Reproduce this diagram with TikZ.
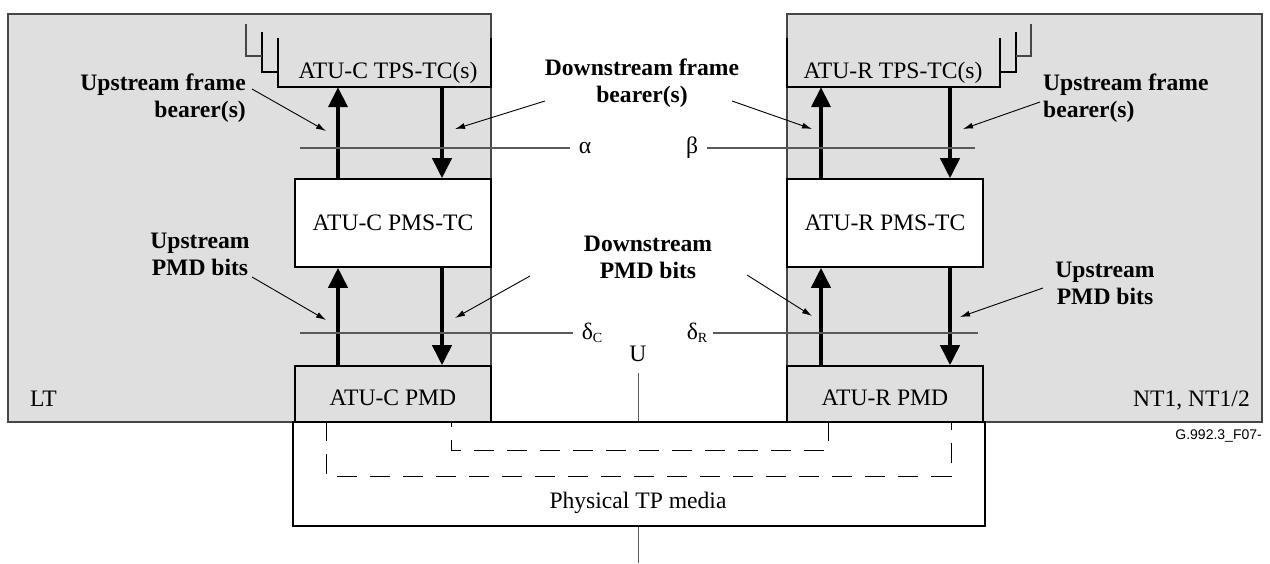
\documentclass[tikz,border=0pt]{standalone}
\usepackage{fontspec}
\setmainfont{Liberation Serif}
\newfontfamily\figsans{Liberation Sans}
\usetikzlibrary{arrows.meta}
\definecolor{panelgray}{RGB}{223,223,223}
\definecolor{edgegray}{RGB}{70,70,70}
\definecolor{refgray}{RGB}{90,90,90}
\newcommand\figfont{\fontsize{23.6}{27}\selectfont}
\newcommand\figsub[1]{\raisebox{-3pt}{\fontsize{14}{14}\selectfont #1}}
\begin{document}
\begin{tikzpicture}[x=1pt,y=-1pt,
  panel/.style={draw=edgegray, line width=1.3pt, fill=panelgray, inner sep=0pt},
  box/.style={draw=black, line width=1.6pt, inner sep=0pt, font=\figfont},
  txt/.style={inner sep=0pt, font=\figfont},
  note/.style={inner sep=0pt, font=\figfont\bfseries},
  bigarrow/.style={line width=4pt, -{Triangle[length=20pt,width=19pt]}},
  pointer/.style={line width=0.9pt, -{Latex[length=10pt,width=6pt]}},
  refline/.style={draw=refgray, line width=1.1pt},
  openbox/.style={line width=1.6pt},
  bracket/.style={line width=1.2pt},
  media dash/.style={line width=1pt, dash pattern=on 20pt off 13pt},
  thin/.style={line width=1pt, draw=refgray}]
\useasboundingbox (0,0) rectangle (1270,563);

% panels
\node[panel, minimum width=483, minimum height=408] (ltpanel) at (249.5,218) {};
\node[panel, minimum width=475, minimum height=408] (ntpanel) at (1024.5,218) {};

% TPS-TC open boxes
\node[inner sep=0pt, minimum width=213, minimum height=49] (tpsC) at (384.5,62.5) {};
\node[inner sep=0pt, minimum width=213, minimum height=49] (tpsR) at (893.5,62.5) {};
\draw[openbox] (tpsC.north west) -- (tpsC.south west) -- (tpsC.south east) -- (tpsC.north east);
\draw[openbox] (tpsR.north west) -- (tpsR.south west) -- (tpsR.south east) -- (tpsR.north east);
\node[txt, anchor=base] (tpsCt) at (388,78) {ATU-C TPS-TC(s)};
\node[txt, anchor=base] (tpsRt) at (893,78) {ATU-R TPS-TC(s)};
% brackets
\draw[bracket] (262,32) -- (262,72) -- (tpsC.west |- 0,72);
\draw[bracket, draw=edgegray] (246,24) -- (246,56) -- (262,56);
\draw[bracket] (1016,32) -- (1016,72) -- (tpsR.east |- 0,72);
\draw[bracket, draw=edgegray] (1031,24) -- (1031,56) -- (1016,56);

% PMS-TC and PMD boxes
\node[box, fill=white, minimum width=196, minimum height=88] (pmsC) at (393,223) {ATU-C PMS-TC};
\node[box, fill=white, minimum width=196, minimum height=88] (pmsR) at (885,223) {ATU-R PMS-TC};
\node[box, fill=panelgray, minimum width=196, minimum height=56] (pmdC) at (393,394) {};
\node[box, fill=panelgray, minimum width=196, minimum height=56] (pmdR) at (885,394) {};
\node[txt, anchor=base] (pmdCt) at (393,405) {ATU-C PMD};
\node[txt, anchor=base] (pmdRt) at (885,405) {ATU-R PMD};

% physical media
\node[box, fill=white, minimum width=692, minimum height=104] (media) at (639,474) {};
\node[txt, anchor=base] (mediat) at (638,508) {Physical TP media};

% x positions of the arrows
\coordinate (xa) at (338,0);
\coordinate (xb) at (442,0);
\coordinate (xc) at (821,0);
\coordinate (xd) at (950,0);

% thick arrows
\draw[bigarrow] (pmsC.north -| xa) -- (tpsC.south -| xa);
\draw[bigarrow] (tpsC.south -| xb) -- (pmsC.north -| xb);
\draw[bigarrow] (pmdC.north -| xa) -- (pmsC.south -| xa);
\draw[bigarrow] (pmsC.south -| xb) -- (pmdC.north -| xb);
\draw[bigarrow] (pmsR.north -| xc) -- (tpsR.south -| xc);
\draw[bigarrow] (tpsR.south -| xd) -- (pmsR.north -| xd);
\draw[bigarrow] (pmdR.north -| xc) -- (pmsR.south -| xc);
\draw[bigarrow] (pmsR.south -| xd) -- (pmdR.north -| xd);

% reference points
\node[txt] (alpha) at (585,148) {α};
\node[txt] (beta) at (692,148) {β};
\node[txt] (deltaC) at (592,333) {δ\figsub{C}};
\node[txt] (deltaR) at (697,333) {δ\figsub{R}};
\node[txt] (U) at (638,354) {U};
\coordinate (aL) at (300,148);
\coordinate (bR) at (975,148);
\coordinate (dL) at (300,333);
\coordinate (dR) at (978,333);
\draw[refline] (aL) -- ([xshift=-9pt]alpha.west);
\draw[refline] ([xshift=9pt]beta.east) -- (bR);
\draw[refline] (dL) -- ([xshift=-9pt]deltaC.west);
\draw[refline] ([xshift=6pt]deltaR.east) -- (dR);
\coordinate (Ub) at (638,373);
\draw[thin] (Ub) -- (media.north -| Ub);
\coordinate (Bot) at (638,563);
\draw[thin] (media.south -| Ub) -- (Bot);

% dashed loops in the medium
\coordinate (o1) at (326,0);
\coordinate (o2) at (951,0);
\coordinate (i1) at (451,0);
\coordinate (i2) at (828,0);
\draw[media dash, dash phase=0pt] (media.north -| o1) -- (326,476) -- (951,476) -- (media.north -| o2);
\draw[media dash, dash phase=14pt] (media.north -| i1) -- (451,450) -- (828,450) -- (media.north -| i2);

% annotation labels (anchor base = baseline of the last line)
\node[note, align=right, anchor=base east] (ufbL) at (246,117) {Upstream frame\\bearer(s)};
\node[note, align=center, anchor=base] (dfb) at (642,102) {Downstream frame\\bearer(s)};
\node[note, align=left, anchor=base west] (ufbR) at (1043,117) {Upstream frame\\bearer(s)};
\node[note, align=center, anchor=base] (upmdL) at (200,275) {Upstream\\PMD bits};
\node[note, align=center, anchor=base] (dpmd) at (648,278) {Downstream\\PMD bits};
\node[note, align=center, anchor=base] (upmdR) at (1105,304) {Upstream\\PMD bits};

% pointers
\coordinate (p1s) at (252,89);   \coordinate (p1e) at (326,131);
\coordinate (p2s) at (545,101);  \coordinate (p2e) at (455,129);
\coordinate (p3s) at (732,101);  \coordinate (p3e) at (812,129);
\coordinate (p4s) at (1040,102); \coordinate (p4e) at (963,129);
\coordinate (p5s) at (252,277);  \coordinate (p5e) at (326,320);
\coordinate (p6s) at (530,276);  \coordinate (p6e) at (455,318);
\coordinate (p7s) at (747,275);  \coordinate (p7e) at (812,316);
\coordinate (p8s) at (1043,288); \coordinate (p8e) at (960,317);
\foreach \i in {1,...,8} {\draw[pointer] (p\i s) -- (p\i e);}

% corner labels
\node[txt, anchor=base west] (lt) at (30,406) {LT};
\node[txt, anchor=base east] (nt) at (1250,406) {NT1, NT1/2};
\node[inner sep=0pt, anchor=base east, font=\figsans\fontsize{14}{16}\selectfont] (fig) at (1262,439) {G.992.3\_F07-};
\end{tikzpicture}
\end{document}
